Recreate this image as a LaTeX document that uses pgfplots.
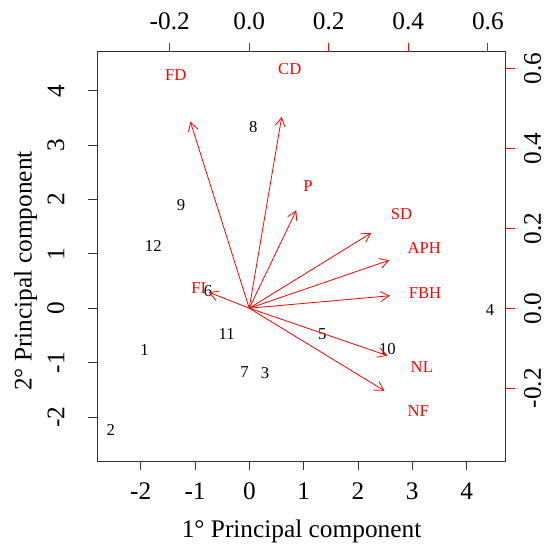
\documentclass[border=0pt]{standalone}
\usepackage{pgfplots}
\pgfplotsset{compat=1.18}
\usepackage{pgfplotstable}
\usepackage{fontspec}
\setmainfont{Liberation Serif}
\usetikzlibrary{arrows.meta}

% observation scores (1st and 2nd principal component)
\pgfplotstableread{
x y lab
-1.93 -0.77 1
-2.55 -2.24 2
0.29 -1.20 3
4.43 -0.04 4
1.34 -0.47 5
-0.76 0.31 6
-0.09 -1.17 7
0.07 3.33 8
-1.26 1.89 9
2.54 -0.75 10
-0.42 -0.48 11
-1.77 1.15 12
}\scores

% variable loadings (top/right axes)
\pgfplotstableread{
x y lab
-0.185 0.583 FD
0.102 0.598 CD
0.148 0.306 P
0.383 0.235 SD
0.440 0.150 APH
0.442 0.039 FBH
0.434 -0.148 NL
0.425 -0.258 NF
-0.127 0.050 FI
}\loadings

\newcommand{\tickfont}{\fontsize{19}{19}\selectfont}
\newcommand{\labfont}{\fontsize{12.5}{12.5}\selectfont}

\pgfplotsset{biplot/.style={
  at={(0,0)}, anchor=south west, scale only axis,
  width=306.3pt, height=307pt,
  tick align=outside, major tick length=6.75pt,
  minor tick num=0,
}}

\begin{document}
\begin{tikzpicture}
\begin{axis}[biplot,
  xmin=-2.80, xmax=4.72, ymin=-2.81, ymax=4.72,
  xtick={-2,-1,0,1,2,3,4}, ytick={-2,-1,0,1,2,3,4},
  xticklabels={-2,-1,0,1,2,3,4}, yticklabels={-2,-1,0,1,2,3,4},
  xtick pos=lower, ytick pos=left,
  axis line style={black!80, line width=0.75pt},
  major tick style={black!80, line width=0.6pt},
  xticklabel style={font=\tickfont, yshift=-16.2pt, anchor=center},
  yticklabel style={font=\tickfont, xshift=-24.3pt, rotate=90, anchor=center},
  xlabel={1° Principal component},
  ylabel={2° Principal component},
  xlabel style={font=\tickfont, at={(axis description cs:0.5,-0.171)}, anchor=center},
  ylabel style={font=\tickfont, at={(axis description cs:-0.176,0.464)}, anchor=center},
]
\addplot[draw=none, mark=none, nodes near coords={\labfont\pgfplotspointmeta},
  point meta=explicit symbolic,
  nodes near coords style={anchor=center, inner sep=0pt, black}]
  table[x=x, y=y, meta=lab] {\scores};
\end{axis}
\begin{axis}[biplot,
  xmin=-0.382, xmax=0.645, ymin=-0.382, ymax=0.6415,
  xtick={-0.2,0,0.2,0.4,0.6}, ytick={-0.2,0,0.2,0.4,0.6},
  xticklabels={-0.2,0.0,0.2,0.4,0.6}, yticklabels={-0.2,0.0,0.2,0.4,0.6},
  xtick pos=upper, ytick pos=right,
  axis line style={draw=none},
  major tick style={red, line width=0.6pt},
  xticklabel style={font=\tickfont, yshift=16.25pt, anchor=center},
  yticklabel style={font=\tickfont, xshift=13.5pt, rotate=90, anchor=center},
]
\addplot[red, line width=0.6pt, -{Straight Barb[length=6.5pt, width=7.5pt]},
  quiver={u=0.8*\thisrow{x}, v=0.8*\thisrow{y}}]
  table[x expr=0, y expr=0] {\loadings};
\addplot[draw=none, mark=none, nodes near coords={\labfont\pgfplotspointmeta},
  point meta=explicit symbolic,
  nodes near coords style={anchor=center, inner sep=0pt, red}]
  table[x=x, y=y, meta=lab] {\loadings};
\end{axis}
\pgfresetboundingbox
\useasboundingbox (-73pt,-63.75pt) rectangle (338pt,345.75pt);
\end{tikzpicture}
\end{document}
